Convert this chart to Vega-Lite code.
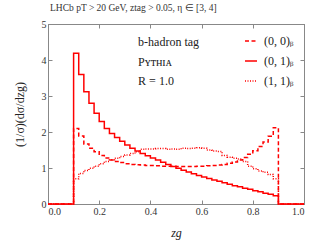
{
  "$schema": "https://vega.github.io/schema/vega-lite/v6.json",
  "width": 256,
  "height": 180,
  "autosize": "none",
  "padding": {"left": 48, "top": 24, "right": 16, "bottom": 36},
  "background": "white",
  "config": {
    "font": "Liberation Serif",
    "view": {"stroke": "#888", "strokeWidth": 1},
    "axis": {
      "grid": false,
      "domainColor": "#888",
      "tickColor": "#888",
      "labelColor": "#333",
      "titleColor": "#222",
      "labelFont": "Liberation Serif",
      "titleFont": "Liberation Serif",
      "titleFontWeight": "normal",
      "labelFontSize": 10,
      "titleFontSize": 12,
      "tickSize": -4
    },
    "legend": {
      "orient": "top-right",
      "offset": 10,
      "padding": 0,
      "labelFontSize": 12,
      "labelFont": "Liberation Serif",
      "labelColor": "#222",
      "symbolType": "stroke",
      "symbolSize": 144,
      "symbolStrokeWidth": 1.5,
      "symbolStrokeColor": "#ff0000",
      "rowPadding": 7,
      "labelOffset": 6
    }
  },
  "title": {
    "text": "LHCb  pT > 20 GeV,  ztag > 0.05,  η ∈ [3, 4]",
    "anchor": "start",
    "frame": "group",
    "fontSize": 9.5,
    "fontWeight": "normal",
    "font": "Liberation Serif",
    "color": "#333",
    "offset": 7,
    "dx": 2
  },
  "datasets": {
    "h": [
      {"z": 0.00, "00": 0, "01": 0, "11": 0},
      {"z": 0.10, "00": 2.10, "01": 4.19, "11": 0.70},
      {"z": 0.12, "00": 1.89, "01": 3.60, "11": 0.85},
      {"z": 0.14, "00": 1.67, "01": 3.12, "11": 0.93},
      {"z": 0.16, "00": 1.55, "01": 2.80, "11": 0.99},
      {"z": 0.18, "00": 1.45, "01": 2.52, "11": 1.05},
      {"z": 0.20, "00": 1.35, "01": 2.29, "11": 1.12},
      {"z": 0.22, "00": 1.28, "01": 2.10, "11": 1.18},
      {"z": 0.24, "00": 1.22, "01": 1.96, "11": 1.23},
      {"z": 0.26, "00": 1.18, "01": 1.85, "11": 1.27},
      {"z": 0.28, "00": 1.15, "01": 1.74, "11": 1.32},
      {"z": 0.30, "00": 1.12, "01": 1.64, "11": 1.36},
      {"z": 0.32, "00": 1.10, "01": 1.55, "11": 1.40},
      {"z": 0.34, "00": 1.09, "01": 1.47, "11": 1.45},
      {"z": 0.36, "00": 1.08, "01": 1.40, "11": 1.52},
      {"z": 0.38, "00": 1.07, "01": 1.34, "11": 1.53},
      {"z": 0.40, "00": 1.07, "01": 1.28, "11": 1.53},
      {"z": 0.42, "00": 1.06, "01": 1.22, "11": 1.54},
      {"z": 0.44, "00": 1.05, "01": 1.16, "11": 1.54},
      {"z": 0.46, "00": 1.05, "01": 1.10, "11": 1.52},
      {"z": 0.48, "00": 1.05, "01": 1.04, "11": 1.53},
      {"z": 0.50, "00": 1.04, "01": 0.99, "11": 1.52},
      {"z": 0.52, "00": 1.04, "01": 0.94, "11": 1.55},
      {"z": 0.54, "00": 1.04, "01": 0.89, "11": 1.54},
      {"z": 0.56, "00": 1.04, "01": 0.84, "11": 1.55},
      {"z": 0.58, "00": 1.05, "01": 0.79, "11": 1.56},
      {"z": 0.60, "00": 1.05, "01": 0.75, "11": 1.55},
      {"z": 0.62, "00": 1.06, "01": 0.71, "11": 1.50},
      {"z": 0.64, "00": 1.07, "01": 0.67, "11": 1.47},
      {"z": 0.66, "00": 1.08, "01": 0.63, "11": 1.46},
      {"z": 0.68, "00": 1.10, "01": 0.59, "11": 1.35},
      {"z": 0.70, "00": 1.13, "01": 0.55, "11": 1.30},
      {"z": 0.72, "00": 1.17, "01": 0.51, "11": 1.27},
      {"z": 0.74, "00": 1.22, "01": 0.48, "11": 1.25},
      {"z": 0.76, "00": 1.29, "01": 0.44, "11": 1.18},
      {"z": 0.78, "00": 1.38, "01": 0.41, "11": 1.05},
      {"z": 0.80, "00": 1.48, "01": 0.37, "11": 0.98},
      {"z": 0.82, "00": 1.60, "01": 0.34, "11": 0.92},
      {"z": 0.84, "00": 1.72, "01": 0.30, "11": 0.88},
      {"z": 0.86, "00": 1.88, "01": 0.27, "11": 0.82},
      {"z": 0.88, "00": 2.12, "01": 0.23, "11": 0.70},
      {"z": 0.90, "00": 0, "01": 0, "11": 0},
      {"z": 1.00, "00": 0, "01": 0, "11": 0}
    ]
  },
  "layer": [
    {
      "data": {"name": "h"},
      "transform": [{"fold": ["00", "01", "11"], "as": ["s", "v"]}],
      "mark": {"type": "line", "interpolate": "step-after", "color": "#ff0000", "strokeWidth": 1.5},
      "encoding": {
        "x": {
          "field": "z", "type": "quantitative",
          "scale": {"domain": [0, 1], "nice": false},
          "axis": {"values": [0, 0.2, 0.4, 0.6, 0.8, 1.0], "format": ".1f", "title": "zg", "titleFontStyle": "italic", "labelPadding": 6, "titlePadding": 11}
        },
        "y": {
          "field": "v", "type": "quantitative",
          "scale": {"domain": [0, 5], "nice": false},
          "axis": {"values": [0, 1, 2, 3, 4, 5], "format": "d", "title": "(1/σ)(dσ/dzg)", "labelPadding": 6, "titlePadding": 15}
        },
        "strokeDash": {
          "field": "s", "type": "nominal",
          "scale": {"domain": ["00", "01", "11"], "range": [[4, 2.5], [1, 0], [1, 1.5]]},
          "legend": {"title": null, "labelExpr": "{'00': '(0, 0)ᵦ', '01': '(0, 1)ᵦ', '11': '(1, 1)ᵦ'}[datum.label]"}
        }
      }
    },
    {
      "data": {"name": "h"},
      "mark": {"type": "point", "opacity": 0},
      "encoding": {
        "x": {
          "field": "z", "type": "quantitative",
          "scale": {"domain": [0, 1], "nice": false},
          "axis": {"orient": "top", "labels": false, "title": null, "values": [0, 0.2, 0.4, 0.6, 0.8, 1.0]}
        },
        "y": {
          "field": "00", "type": "quantitative",
          "scale": {"domain": [0, 5], "nice": false},
          "axis": {"orient": "right", "labels": false, "title": null, "values": [0, 1, 2, 3, 4, 5]}
        }
      }
    },
    {
      "data": {"values": [{"t": "b-hadron tag"}]},
      "mark": {"type": "text", "align": "left", "baseline": "middle", "fontSize": 12, "color": "#222", "font": "Liberation Serif"},
      "encoding": {
        "x": {"datum": 0.352, "type": "quantitative", "axis": null},
        "y": {"datum": 4.5, "type": "quantitative", "axis": null},
        "text": {"field": "t"}
      }
    },
    {
      "data": {"values": [{"t": "Pʏᴛʜɪᴀ"}]},
      "mark": {"type": "text", "align": "left", "baseline": "middle", "fontSize": 12, "color": "#222", "font": "Liberation Serif"},
      "encoding": {
        "x": {"datum": 0.352, "type": "quantitative", "axis": null},
        "y": {"datum": 3.94, "type": "quantitative", "axis": null},
        "text": {"field": "t"}
      }
    },
    {
      "data": {"values": [{"t": "R = 1.0"}]},
      "mark": {"type": "text", "align": "left", "baseline": "middle", "fontSize": 12, "color": "#222", "font": "Liberation Serif"},
      "encoding": {
        "x": {"datum": 0.352, "type": "quantitative", "axis": null},
        "y": {"datum": 3.42, "type": "quantitative", "axis": null},
        "text": {"field": "t"}
      }
    }
  ],
  "resolve": {"axis": {"x": "independent", "y": "independent"}}
}
